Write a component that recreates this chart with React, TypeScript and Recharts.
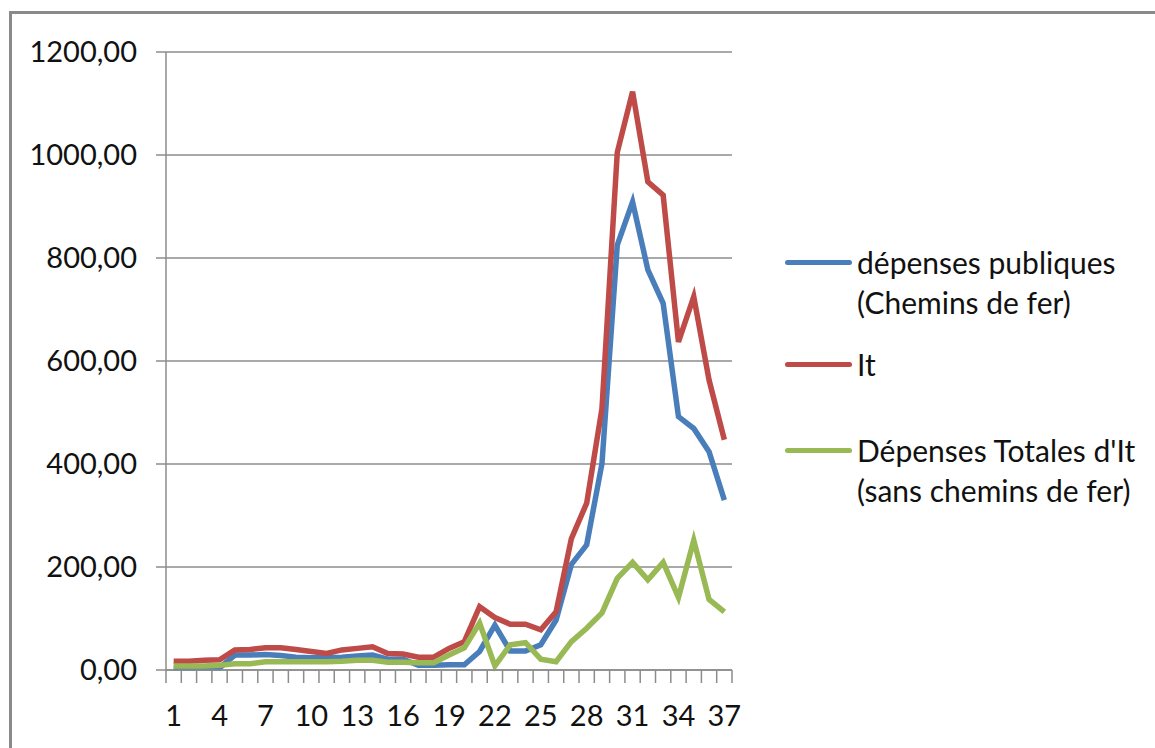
import { LineChart, Line, XAxis, YAxis, CartesianGrid, Legend } from 'recharts';

// périodes 1..37
const periods = [
  1, 2, 3, 4, 5, 6, 7, 8, 9, 10, 11, 12, 13, 14, 15, 16, 17, 18, 19, 20,
  21, 22, 23, 24, 25, 26, 27, 28, 29, 30, 31, 32, 33, 34, 35, 36, 37,
];

const depensesPubliques = [
  4, 4, 4, 4, 29, 29, 30, 28, 25, 24, 24, 25, 27, 29, 21, 21, 9, 9, 10, 10,
  36, 87, 37, 37, 49, 97, 205, 243, 401, 825, 909, 777, 712, 492, 469, 424, 330,
];

const itValues = [
  17, 17, 19, 20, 39, 40, 43, 43, 40, 36, 32, 39, 42, 45, 32, 31, 25, 25, 42, 55,
  123, 102, 89, 89, 78, 113, 255, 324, 508, 1005, 1123, 948, 922, 637, 725, 563, 447,
];

const depensesTotales = [
  8, 8, 8, 9, 12, 12, 16, 16, 16, 16, 16, 17, 19, 19, 15, 15, 14, 14, 29, 43,
  91, 8, 49, 53, 21, 16, 55, 81, 111, 178, 209, 175, 209, 141, 252, 137, 113,
];

const yTicks = [0, 200, 400, 600, 800, 1000, 1200];
const xLabelTicks = [1, 4, 7, 10, 13, 16, 19, 22, 25, 28, 31, 34, 37];
const xMarkTicks = [...periods.map((p) => p - 0.5), periods[periods.length - 1] + 0.5];

const seriesNames = [
  'dépenses publiques\n(Chemins de fer)',
  'It',
  "Dépenses Totales d'It\n(sans chemins de fer)",
];

const BLUE = '#4a7ebb';
const RED = '#be4b48';
const GREEN = '#98b954';
const GRID = '#8c8c8c';
const FONT = 'Lato, "Open Sans", sans-serif';

const data = periods.map((p, i) => ({
  period: p,
  pub: depensesPubliques[i],
  it: itValues[i],
  tot: depensesTotales[i],
}));

const fmt = (v: number) => v.toFixed(2).replace('.', ',');

// vertical offsets of each legend entry (Excel spaces them unevenly)
const legendGaps = [0, 22, 46];

function LegendBox(props: any) {
  const payload = [...(props.payload || [])].sort(
    (a: any, b: any) => seriesNames.indexOf(a.value) - seriesNames.indexOf(b.value),
  );
  return (
    <div style={{ fontFamily: FONT, fontSize: 30, color: '#111', lineHeight: '40px' }}>
      {payload.map((entry: any, i: number) => (
        <div key={i} style={{ display: 'flex', alignItems: 'flex-start', marginTop: legendGaps[i] }}>
          <div
            style={{
              width: 67,
              height: 5,
              borderRadius: 3,
              background: entry.color,
              marginTop: 18,
              marginRight: 5,
              flexShrink: 0,
            }}
          />
          <div style={{ whiteSpace: 'pre' }}>{entry.value}</div>
        </div>
      ))}
    </div>
  );
}

const EmptyTick = () => <g />;

export default function App() {
  return (
    <div
      style={{
        position: 'absolute',
        left: 0,
        top: 0,
        width: 1155,
        height: 748,
        background: '#fff',
        overflow: 'hidden',
      }}
    >
      <div
        style={{
          position: 'absolute',
          left: 9,
          top: 11,
          width: 1170,
          height: 780,
          border: '3px solid #8a8a8a',
        }}
      />
      <LineChart
        width={1155}
        height={748}
        data={data}
        margin={{ top: 52, right: 423, bottom: 0, left: 0 }}
        style={{ position: 'absolute', left: 0, top: 0 }}
      >
        <CartesianGrid vertical={false} stroke={GRID} strokeWidth={1.5} />
        {/* tick marks between categories (axis ids sorted so this one sits on the plot edge) */}
        <XAxis
          xAxisId="a_marks"
          dataKey="period"
          type="number"
          domain={[0.5, 37.5]}
          ticks={xMarkTicks}
          interval={0}
          tick={EmptyTick}
          tickSize={13}
          height={1}
          axisLine={{ stroke: GRID, strokeWidth: 1.5 }}
          tickLine={{ stroke: GRID, strokeWidth: 1.5 }}
        />
        <XAxis
          xAxisId="b_labels"
          dataKey="period"
          type="number"
          domain={[0.5, 37.5]}
          ticks={xLabelTicks}
          interval={0}
          height={77}
          tickSize={0}
          tickMargin={34}
          axisLine={false}
          tickLine={false}
          tick={{ fill: '#111', fontSize: 29, fontFamily: FONT }}
        />
        <YAxis
          domain={[0, 1200]}
          ticks={yTicks}
          width={166}
          tickFormatter={fmt}
          tickSize={10}
          tickMargin={19}
          axisLine={{ stroke: GRID, strokeWidth: 1.5 }}
          tickLine={{ stroke: GRID, strokeWidth: 1.5 }}
          tick={{ fill: '#111', fontSize: 29, fontFamily: FONT }}
        />
        <Legend
          layout="vertical"
          align="center"
          verticalAlign="middle"
          content={<LegendBox />}
          wrapperStyle={{ position: 'absolute', left: 785, top: 242, width: 360 }}
        />
        <Line
          xAxisId="b_labels"
          dataKey="pub"
          name={seriesNames[0]}
          stroke={BLUE}
          strokeWidth={5.5}
          dot={false}
          isAnimationActive={false}
        />
        <Line
          xAxisId="b_labels"
          dataKey="it"
          name={seriesNames[1]}
          stroke={RED}
          strokeWidth={5.5}
          dot={false}
          isAnimationActive={false}
        />
        <Line
          xAxisId="b_labels"
          dataKey="tot"
          name={seriesNames[2]}
          stroke={GREEN}
          strokeWidth={5.5}
          dot={false}
          isAnimationActive={false}
        />
      </LineChart>
    </div>
  );
}
